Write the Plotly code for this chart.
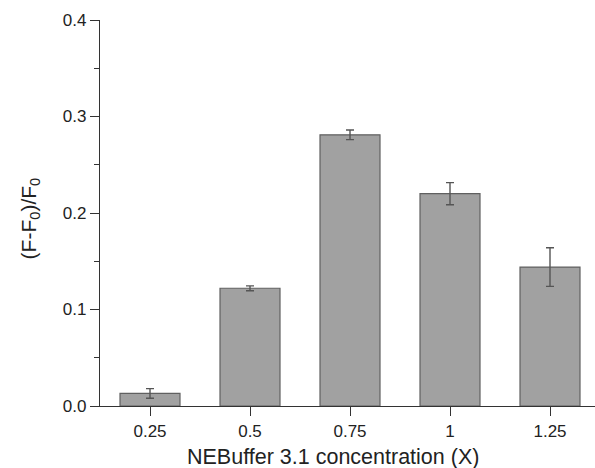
import plotly.graph_objects as go

# NEBuffer 3.1 concentration series
concentrations = ["0.25", "0.5", "0.75", "1", "1.25"]
response = [0.013, 0.122, 0.281, 0.220, 0.144]
response_err = [0.005, 0.0025, 0.005, 0.0115, 0.020]

font_family = "Arial, Liberation Sans, Helvetica, sans-serif"
axis_color = "#333333"

fig = go.Figure(
    go.Bar(
        x=concentrations,
        y=response,
        width=0.6,
        marker=dict(color="#a1a1a1", line=dict(color="#606060", width=1.2)),
        error_y=dict(type="data", array=response_err, visible=True,
                     color="#555555", thickness=1.4, width=4),
    )
)

fig.update_layout(
    width=595,
    height=468,
    margin=dict(l=100, r=0, t=20, b=62),
    paper_bgcolor="white",
    plot_bgcolor="white",
    showlegend=False,
    font=dict(family=font_family, size=17, color="#222222"),
)

fig.update_xaxes(
    type="category",
    range=[-0.5, 4.45],
    showline=True,
    linecolor=axis_color,
    linewidth=1.3,
    ticks="outside",
    ticklen=9,
    tickwidth=1.2,
    tickcolor=axis_color,
    showgrid=False,
    zeroline=False,
    automargin=False,
)

fig.update_yaxes(
    range=[0, 0.4],
    dtick=0.1,
    tickformat=".1f",
    showline=True,
    linecolor=axis_color,
    linewidth=1.3,
    ticks="outside",
    ticklen=9,
    tickwidth=1.2,
    tickcolor=axis_color,
    minor=dict(dtick=0.05, ticks="outside", ticklen=5,
               tickwidth=1, tickcolor=axis_color, showgrid=False),
    showgrid=False,
    zeroline=False,
    automargin=False,
)

# Axis titles placed as annotations for precise positioning
fig.add_annotation(
    text="NEBuffer 3.1 concentration (X)",
    xref="paper", yref="paper", x=0.47, y=-0.133,
    xanchor="center", yanchor="middle", showarrow=False,
    font=dict(size=21.5),
)
fig.add_annotation(
    text="(F-F<sub>0</sub>)/F<sub>0</sub>",
    xref="paper", yref="paper", x=-0.1414, y=0.486,
    xanchor="center", yanchor="middle", showarrow=False,
    textangle=-90, font=dict(size=21),
)

fig.write_html("out.html")
